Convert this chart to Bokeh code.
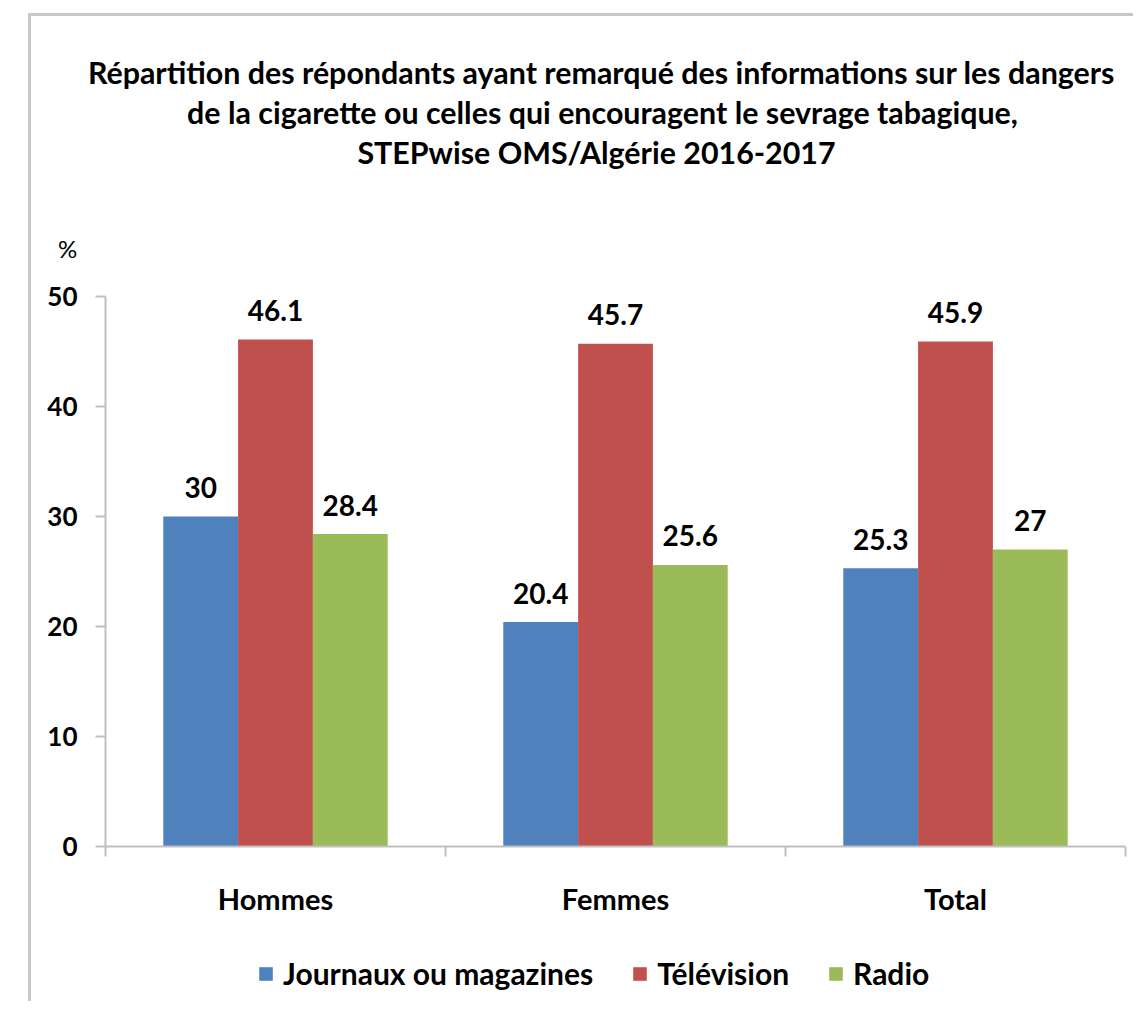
from bokeh.plotting import figure
from bokeh.models import (Range1d, FixedTicker, Label, Legend, LegendItem,
                          ColumnDataSource)
from bokeh.transform import dodge
from bokeh.embed import file_html
from bokeh.resources import INLINE
from bokeh.core.properties import value

# ---- data ----
categories = ["Hommes", "Femmes", "Total"]
series_names = ["Journaux ou magazines", "Télévision", "Radio"]
journaux = [30, 20.4, 25.3]
television = [46.1, 45.7, 45.9]
radio = [28.4, 25.6, 27]
y_ticks = [0, 10, 20, 30, 40, 50]
title_lines = [
    "Répartition des répondants ayant remarqué des informations sur les dangers",
    "de la cigarette ou celles qui encouragent le sevrage tabagique,",
    "STEPwise OMS/Algérie 2016-2017",
]
y_unit = "%"

colors = ["#4F81BD", "#C0504D", "#9BBB59"]
FONT = "Lato"
AXIS_COLOR = "#BFBFBF"
BORDER = "3px solid #C8C8C8"
W = 1105


def bare_figure(height, xr=(0, 1)):
    f = figure(width=W, height=height, output_backend="svg", toolbar_location=None,
               x_range=Range1d(*xr), y_range=Range1d(0, 1),
               x_axis_location=None, y_axis_location=None, min_border=0)
    f.outline_line_color = None
    f.grid.visible = False
    f.background_fill_color = "white"
    f.border_fill_color = "white"
    return f


xc = [i + 0.5 for i in range(len(categories))]
src = ColumnDataSource(dict(
    x=xc, cat=categories,
    j=journaux, t=television, r=radio,
    jl=[f"{v:g}" for v in journaux],
    tl=[f"{v:g}" for v in television],
    rl=[f"{v:g}" for v in radio],
))
w = 0.22
offsets = [-w, 0, w]
keys = ["j", "t", "r"]
labkeys = ["jl", "tl", "rl"]

# ---- header (title + unit) ----
header = bare_figure(263)
header.margin = (13, 0, 0, 28)
header.styles = {"border-left": BORDER, "border-top": BORDER}
title_pos = [(570, 208), (571, 168), (565, 128)]
for line, (tx, ty) in zip(title_lines, title_pos):
    header.add_layout(Label(x=tx, y=ty, x_units="screen", y_units="screen",
                            text=line, text_align="center", text_baseline="alphabetic",
                            text_font=FONT, text_font_style="bold",
                            text_font_size="30.4px", text_color="black"))
header.add_layout(Label(x=36, y=31, x_units="screen", y_units="screen",
                        text=y_unit, text_align="center", text_baseline="alphabetic",
                        text_font=FONT, text_font_size="24px", text_color="black"))

# ---- main chart ----
p = figure(width=W, height=655, output_backend="svg", toolbar_location=None,
           x_range=Range1d(0, len(categories)), y_range=Range1d(0, 50),
           min_border_left=74, min_border_right=11, min_border_top=20,
           min_border_bottom=85)
p.margin = (0, 0, 0, 28)
p.styles = {"border-left": BORDER}
p.outline_line_color = None
p.grid.visible = False
p.background_fill_color = "white"
p.border_fill_color = "white"

for k, lk, off, c in zip(keys, labkeys, offsets, colors):
    p.vbar(x=dodge("x", off, range=p.x_range), top=k, width=w, bottom=0,
           source=src, fill_color=c, line_color=None)
    p.text(x=dodge("x", off, range=p.x_range), y=k, text=lk, source=src,
           text_align="center", text_baseline="middle", y_offset=-29,
           text_font=value(FONT), text_font_style="bold",
           text_font_size="28px", text_color="black")

ya = p.yaxis[0]
ya.ticker = FixedTicker(ticks=y_ticks, minor_ticks=[])
ya.axis_line_color = AXIS_COLOR
ya.axis_line_width = 2
ya.major_tick_line_color = AXIS_COLOR
ya.major_tick_line_width = 2
ya.major_tick_in = 0
ya.major_tick_out = 10
ya.major_label_standoff = 18
ya.major_label_text_font = FONT
ya.major_label_text_font_style = "bold"
ya.major_label_text_font_size = "26px"
ya.major_label_text_color = "black"

xa = p.xaxis[0]
xa.ticker = FixedTicker(ticks=xc, minor_ticks=list(range(len(categories) + 1)))
xa.major_label_overrides = {x: c for x, c in zip(xc, categories)}
xa.axis_line_color = AXIS_COLOR
xa.axis_line_width = 2
xa.major_tick_line_color = None
xa.major_tick_in = 0
xa.major_tick_out = 0
xa.minor_tick_line_color = AXIS_COLOR
xa.minor_tick_line_width = 2
xa.minor_tick_in = 0
xa.minor_tick_out = 10
xa.major_label_standoff = 24
xa.major_label_text_font = FONT
xa.major_label_text_font_style = "bold"
xa.major_label_text_font_size = "29px"
xa.major_label_text_color = "black"

# ---- legend strip (proxy bars lie outside its visible x range) ----
leg = bare_figure(70, xr=(-20, -19))
leg.margin = (0, 0, 0, 28)
leg.styles = {"border-left": BORDER}
leg_renderers = [leg.vbar(x="x", top=k, width=w, source=src,
                          fill_color=c, line_color=None)
                 for k, c in zip(keys, colors)]
legend = Legend(items=[LegendItem(label=n, renderers=[r], index=0)
                       for n, r in zip(series_names, leg_renderers)],
                orientation="horizontal", location=(226, 10),
                glyph_width=17, glyph_height=17, label_standoff=9, spacing=38,
                padding=0, margin=0, border_line_color=None,
                background_fill_alpha=0,
                label_text_font=FONT, label_text_font_style="bold",
                label_text_font_size="30px", label_text_color="black")
leg.add_layout(legend, "center")

open("out.html", "w").write(file_html([header, p, leg], INLINE))
